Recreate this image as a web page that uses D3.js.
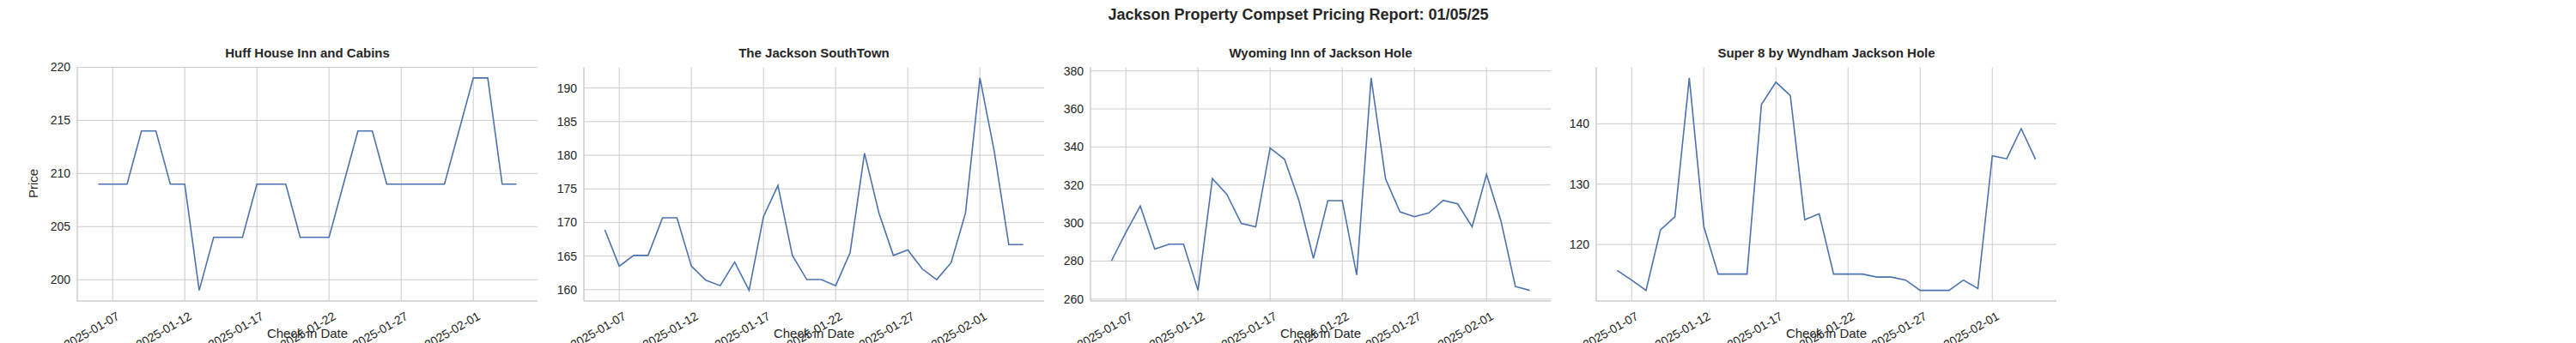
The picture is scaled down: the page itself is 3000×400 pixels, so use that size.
<!DOCTYPE html>
<html><head><meta charset="utf-8">
<script src="https://cdn.jsdelivr.net/npm/d3@7"></script>
<style>body{margin:0;background:#fff}text{font-family:"Liberation Sans",Arial,sans-serif;fill:#262626}</style>
</head><body><svg id="c" width="3000" height="400"></svg>
<script>
const startDate = "2025-01-06";
const titles = ["Huff House Inn and Cabins","The Jackson SouthTown","Wyoming Inn of Jackson Hole","Super 8 by Wyndham Jackson Hole"];
const huff = [209,209,209,214,214,209,209,199,204,204,204,209,209,209,204,204,204,209,214,214,209,209,209,209,209,214,219,219,209,209];
const southtown = [168.9,163.5,165.1,165.1,170.7,170.7,163.5,161.4,160.6,164.1,159.9,170.9,175.5,165.1,161.5,161.5,160.6,165.5,180.3,171.4,165.1,165.9,163.1,161.5,164.0,171.4,191.5,180.5,166.7,166.7];
const wyoming = [280.1,295,309,286.3,288.9,288.9,264.6,323.4,315.1,299.8,298,339.4,333.5,311.8,281.4,311.8,311.8,272.7,376.3,323.2,305.9,303.3,305.3,311.9,310.1,298,325.6,301.1,266.6,264.6];
const super8 = [115.7,114.1,112.4,122.4,124.6,147.6,123.0,115.1,115.1,115.1,143.2,146.9,144.7,124.1,125.1,115.1,115.1,115.1,114.6,114.6,114.1,112.4,112.4,112.4,114.1,112.7,134.7,134.2,139.2,134.1];
const yTicks = [[200,205,210,215,220],[160,165,170,175,180,185,190],[260,280,300,320,340,360,380],[120,130,140]];
const xTickLabels = ["2025-01-07","2025-01-12","2025-01-17","2025-01-22","2025-01-27","2025-02-01"];
const series = [huff, southtown, wyoming, super8];

const svg = d3.select("#c");
const parse = d3.utcParse("%Y-%m-%d");
const d0 = parse(startDate);
const dates = huff.map((_, i) => d3.utcDay.offset(d0, i));
const xTicks = xTickLabels.map(parse);
svg.append("text").attr("x",1512).attr("y",23).attr("text-anchor","middle")
  .style("font-size","18px").style("font-weight","bold").text("Jackson Property Compset Pricing Report: 01/05/25");

const lefts = [90,680,1270,1859], W = 536, yTop = 78.5, yBot = 351;
series.forEach((vals, k) => {
  const g = svg.append("g");
  const L = lefts[k];
  const t0 = dates[0].getTime(), t1 = dates[dates.length-1].getTime();
  const px = (t1 - t0) * 0.05;
  const x = d3.scaleUtc().domain([new Date(t0 - px), new Date(t1 + px)]).range([L, L + W]);
  const [mn, mx] = d3.extent(vals); const py = (mx - mn) * 0.05;
  const y = d3.scaleLinear().domain([mn - py, mx + py]).range([yBot, yTop]);
  g.selectAll(".gx").data(xTicks).join("line").attr("x1",d=>x(d)).attr("x2",d=>x(d))
    .attr("y1",yTop).attr("y2",yBot).attr("stroke","#cccccc").attr("stroke-width",1);
  g.selectAll(".gy").data(yTicks[k]).join("line").attr("y1",d=>y(d)).attr("y2",d=>y(d))
    .attr("x1",L).attr("x2",L+W).attr("stroke","#cccccc").attr("stroke-width",1);
  g.append("line").attr("x1",L).attr("x2",L).attr("y1",yTop).attr("y2",yBot).attr("stroke","#cccccc").attr("stroke-width",1.5);
  g.append("line").attr("x1",L).attr("x2",L+W).attr("y1",yBot).attr("y2",yBot).attr("stroke","#cccccc").attr("stroke-width",1.5);
  g.selectAll(".yl").data(yTicks[k]).join("text").attr("x",L-8).attr("y",d=>y(d)).attr("dy","0.35em")
    .attr("text-anchor","end").style("font-size","14px").text(d=>d);
  g.selectAll(".xl").data(xTicks).join("text")
    .attr("transform",d=>`translate(${x(d)+4},${yBot+12}) rotate(-30)`)
    .attr("text-anchor","end").attr("dy","0.7em").style("font-size","14px")
    .text((d,i)=>xTickLabels[i]);
  g.append("text").attr("x",L+W/2).attr("y",yBot+43).attr("text-anchor","middle").style("font-size","15px").text("Check in Date");
  g.append("text").attr("x",L+W/2).attr("y",67).attr("text-anchor","middle").style("font-size","15px").style("font-weight","bold").text(titles[k]);
  const line = d3.line().x((d,i)=>x(dates[i])).y(d=>y(d));
  g.append("path").datum(vals).attr("d",line).attr("fill","none").attr("stroke","#4c72b0").attr("stroke-width",1.6);
});
svg.append("text").attr("transform","translate(44,214) rotate(-90)").attr("text-anchor","middle").style("font-size","15px").text("Price");
</script></body></html>
